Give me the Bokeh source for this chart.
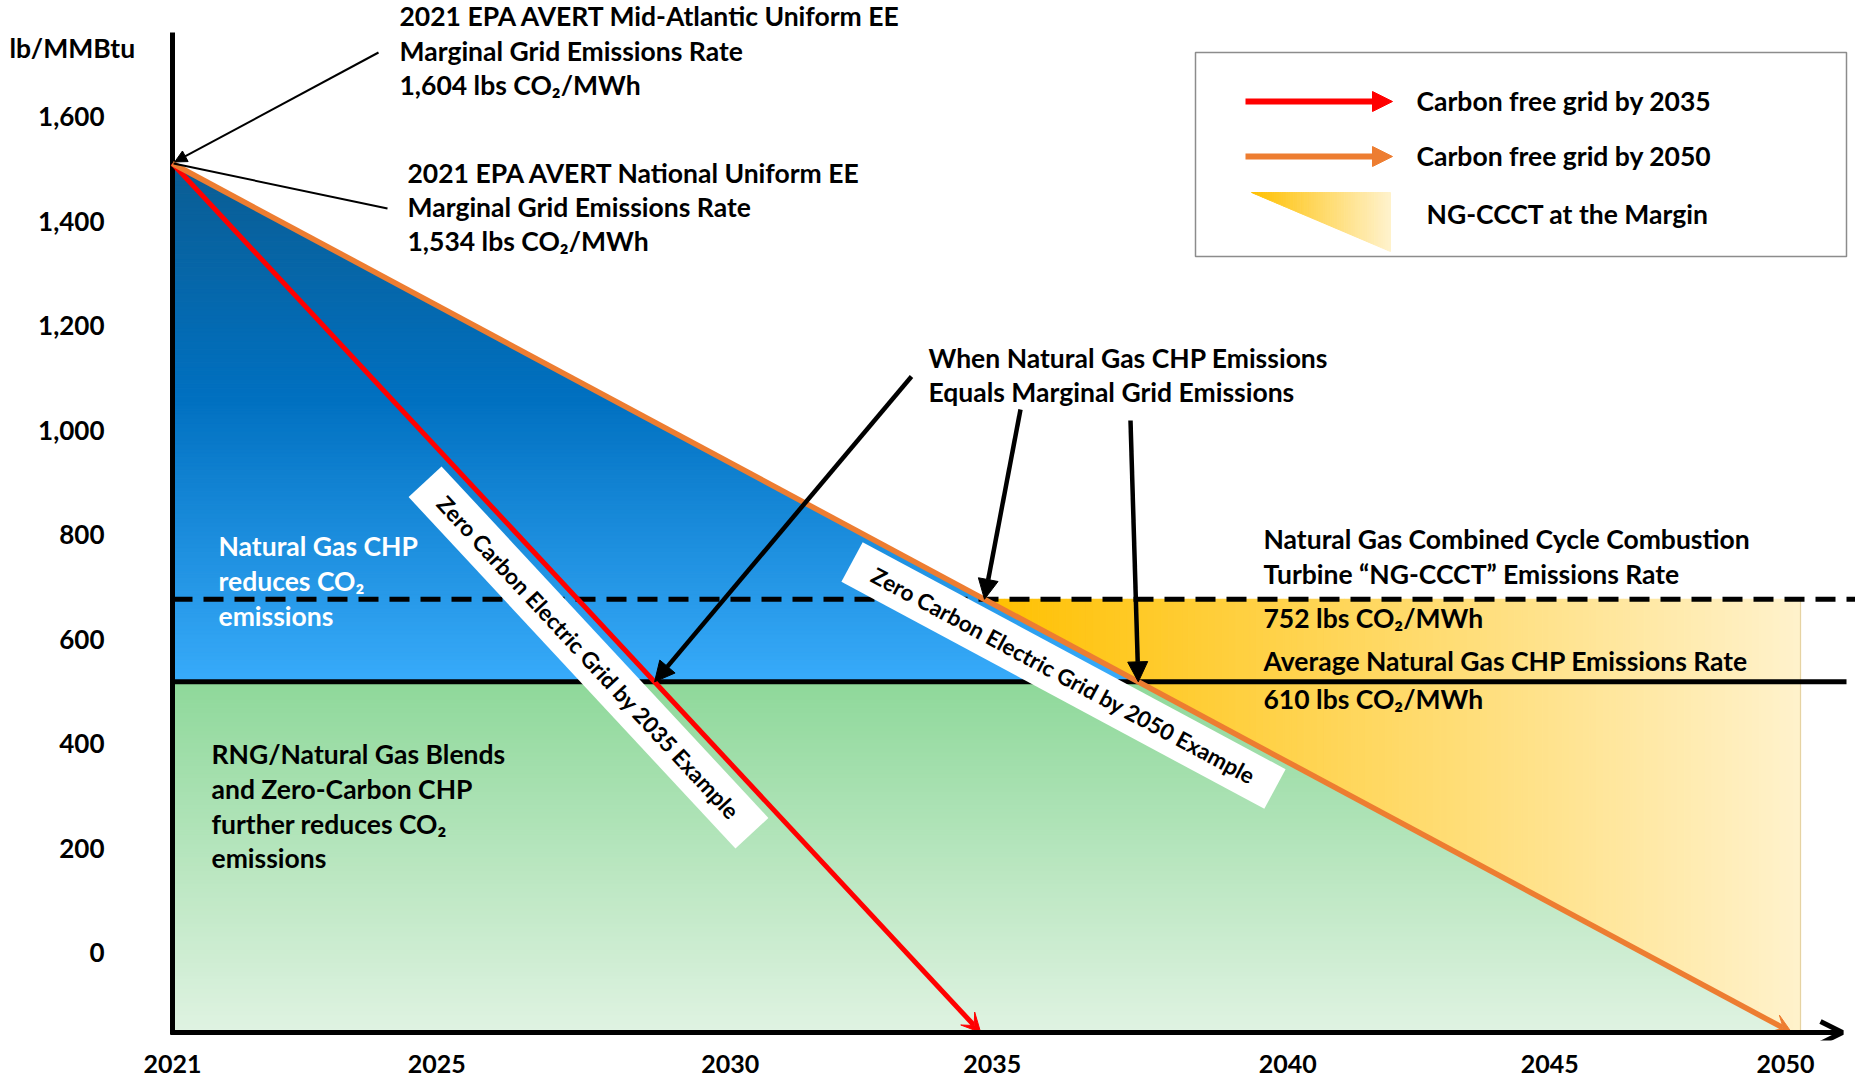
import numpy as np
from bokeh.plotting import figure
from bokeh.models import Range1d, FixedTicker, Label, Arrow, NormalHead, OpenHead, VeeHead
from bokeh.core.properties import value
from bokeh.embed import file_html
from bokeh.resources import INLINE

# ---------------- values ----------------
X_TICK_LABELS = ["2021", "2025", "2030", "2035", "2040", "2045", "2050"]
X_TICK_AT = [2021.0, 2025.75, 2031.03, 2035.74, 2041.05, 2045.76, 2050.0]   # where the reference places each year label
Y_TICK_VALUES = [0, 200, 400, 600, 800, 1000, 1200, 1400, 1600]
Y_TICK_LABELS = ["0", "200", "400", "600", "800", "1,000", "1,200", "1,400", "1,600"]

START_YEAR = 2021.0
START_RATE = 1510.0        # starting marginal grid emissions (apex)
FLOOR_RATE = -153.0        # level of the horizontal axis
RED_END_YEAR = 2035.53     # carbon free grid by 2035
ORANGE_END_YEAR = 2050.11  # carbon free grid by 2050
NGCCCT_RATE = 676.0        # NG-CCCT emissions level (dashed)
CHP_RATE = 518.0           # average NG CHP emissions level (solid)
MARGIN_END_YEAR = 2050.27  # right end of the NG-CCCT shaded area

TXT_MIDATL = ["2021 EPA AVERT Mid-Atlantic Uniform EE", "Marginal Grid Emissions Rate", "1,604 lbs CO\u2082/MWh"]
TXT_NATIONAL = ["2021 EPA AVERT National Uniform EE", "Marginal Grid Emissions Rate", "1,534 lbs CO\u2082/MWh"]
TXT_WHEN = ["When Natural Gas CHP Emissions", "Equals Marginal Grid Emissions"]
TXT_NGCCCT = ["Natural Gas Combined Cycle Combustion", "Turbine \u201cNG-CCCT\u201d Emissions Rate", "752 lbs CO\u2082/MWh"]
TXT_CHPAVG = ["Average Natural Gas CHP Emissions Rate", "610 lbs CO\u2082/MWh"]
TXT_BLUE = ["Natural Gas CHP", "reduces CO\u2082", "emissions"]
TXT_GREEN = ["RNG/Natural Gas Blends", "and Zero-Carbon CHP", "further reduces CO\u2082", "emissions"]
LEGEND_TXT = ["Carbon free grid by 2035", "Carbon free grid by 2050", "NG-CCCT at the Margin"]
BOX_TXT = ["Zero Carbon Electric Grid by 2035 Example", "Zero Carbon Electric Grid by 2050 Example"]
UNIT_TXT = "lb/MMBtu"

# ---------------- layout ----------------
W, H = 1855, 1084
FL, FR, FT, FB = 150, 1855, 0, 1040
PX_X0, PX_PER_YEAR = 172.0, 55.62
PX_Y0, PX_PER_UNIT = 952.0, 0.5225
FONT = "Lato"
TXT_SIZE = "26.5px"
RED = "#FF0000"
ORANGE = "#ED7D31"


def X(px):
    return START_YEAR + (px - PX_X0) / PX_PER_YEAR


def Y(py):
    return (PX_Y0 - py) / PX_PER_UNIT


def hex2rgb(h):
    h = h.lstrip("#")
    return tuple(int(h[i:i + 2], 16) for i in (0, 2, 4))


def grad(stops, t):
    t = min(max(t, 0.0), 1.0)
    for (t0, c0), (t1, c1) in zip(stops[:-1], stops[1:]):
        if t <= t1:
            f = (t - t0) / (t1 - t0) if t1 > t0 else 0.0
            a, b = hex2rgb(c0), hex2rgb(c1)
            return "#%02x%02x%02x" % tuple(int(round(a[i] + (b[i] - a[i]) * f)) for i in range(3))
    return stops[-1][1]


def orange_x(y):
    return START_YEAR + (START_RATE - y) / (START_RATE - FLOOR_RATE) * (ORANGE_END_YEAR - START_YEAR)


def orange_y(x):
    return START_RATE - (x - START_YEAR) / (ORANGE_END_YEAR - START_YEAR) * (START_RATE - FLOOR_RATE)


def red_x(y):
    return START_YEAR + (START_RATE - y) / (START_RATE - FLOOR_RATE) * (RED_END_YEAR - START_YEAR)


p = figure(width=W, height=H, x_range=Range1d(X(FL), X(FR)), y_range=Range1d(Y(FB), Y(FT)),
           output_backend="svg", toolbar_location=None, title=None,
           min_border_left=FL, min_border_right=W - FR, min_border_top=FT, min_border_bottom=H - FB,
           background_fill_color="white", border_fill_color="white", outline_line_color=None)
p.xgrid.visible = False
p.ygrid.visible = False

# ---------------- shaded regions (gradients built from strips) ----------------
BLUE_STOPS = [(0.0, "#38ABFA"), (0.55, "#0070C0"), (1.0, "#0B5D93")]
GREEN_STOPS = [(0.0, "#E0F3E2"), (1.0, "#8ED89A")]
YELLOW_STOPS = [(0.0, "#FFC000"), (1.0, "#FFF2CC")]

xs, ys, cs = [], [], []
e = np.linspace(CHP_RATE, START_RATE, 121)
for y0, y1 in zip(e[:-1], e[1:]):
    xs.append([START_YEAR, orange_x(y0), orange_x(y1), START_YEAR])
    ys.append([y0, y0, y1, y1])
    cs.append(grad(BLUE_STOPS, ((y0 + y1) / 2 - CHP_RATE) / (START_RATE - CHP_RATE)))
e = np.linspace(FLOOR_RATE, CHP_RATE, 81)
for y0, y1 in zip(e[:-1], e[1:]):
    xs.append([START_YEAR, orange_x(y0), orange_x(y1), START_YEAR])
    ys.append([y0, y0, y1, y1])
    cs.append(grad(GREEN_STOPS, ((y0 + y1) / 2 - FLOOR_RATE) / (CHP_RATE - FLOOR_RATE)))
xa = orange_x(NGCCCT_RATE)
e = np.linspace(xa, MARGIN_END_YEAR, 121)
for x0, x1 in zip(e[:-1], e[1:]):
    b0, b1 = max(orange_y(x0), FLOOR_RATE), max(orange_y(x1), FLOOR_RATE)
    xs.append([x0, x1, x1, x0])
    ys.append([b0, b1, NGCCCT_RATE, NGCCCT_RATE])
    cs.append(grad(YELLOW_STOPS, ((x0 + x1) / 2 - xa) / (MARGIN_END_YEAR - xa)))
p.patches(xs=xs, ys=ys, fill_color=cs, line_color=cs, line_width=1.2)
p.segment(x0=[MARGIN_END_YEAR], y0=[FLOOR_RATE], x1=[MARGIN_END_YEAR], y1=[NGCCCT_RATE],
          line_color="#E6D3A3", line_width=1.2)

# ---------------- reference levels ----------------
p.segment(x0=[START_YEAR], y0=[NGCCCT_RATE], x1=[X(1855)], y1=[NGCCCT_RATE],
          line_color="black", line_width=5, line_dash="20 11")
p.segment(x0=[START_YEAR], y0=[CHP_RATE], x1=[X(1846)], y1=[CHP_RATE],
          line_color="black", line_width=5)

# ---------------- rotated white boxes ----------------
BOXES = [((588, 657), -np.arctan2(1032 - 163, 980 - 172)), ((1063, 675), -np.arctan2(1032 - 163, 1791 - 172))]
for (cx, cy), ang in BOXES:
    p.rect(x=[X(cx)], y=[Y(cy)], width=480, height=45, width_units="screen", height_units="screen",
           angle=ang, fill_color="white", line_color=None)
for ((cx, cy), ang), t in zip(BOXES, BOX_TXT):
    p.add_layout(Label(x=X(cx), y=Y(cy), text=t, angle=ang, angle_units="rad", text_align="center",
                       text_baseline="middle", text_font=FONT, text_font_style="bold",
                       text_font_size="22.5px", text_color="black"))

# ---------------- axes lines ----------------
p.segment(x0=[START_YEAR], y0=[Y(1034)], x1=[START_YEAR], y1=[Y(32)], line_color="black", line_width=5)

# ---------------- main scenario lines ----------------
p.add_layout(Arrow(x_start=START_YEAR, y_start=START_RATE, x_end=RED_END_YEAR, y_end=FLOOR_RATE,
                   line_color=RED, line_width=5,
                   end=VeeHead(size=19, fill_color=RED, line_color=RED, line_width=1)))
p.add_layout(Arrow(x_start=START_YEAR, y_start=START_RATE, x_end=ORANGE_END_YEAR, y_end=FLOOR_RATE,
                   line_color=ORANGE, line_width=5.5,
                   end=VeeHead(size=19, fill_color=ORANGE, line_color=ORANGE, line_width=1)))

p.add_layout(Arrow(x_start=X(1842), y_start=FLOOR_RATE, x_end=X(170), y_end=FLOOR_RATE,
                   line_color="black", line_width=5, end=None,
                   start=OpenHead(size=22, line_color="black", line_width=5)))

# ---------------- callout arrows ----------------
def callout(px0, py0, x1, y1, lw, size, head=True):
    p.add_layout(Arrow(x_start=X(px0), y_start=Y(py0), x_end=x1, y_end=y1, line_color="black",
                       line_width=lw,
                       end=NormalHead(size=size, fill_color="black", line_color="black") if head else None))

callout(378, 52, START_YEAR + 0.04, START_RATE + 3, 2, 12)
callout(387, 208, START_YEAR + 0.02, START_RATE, 2, 0, head=False)
callout(911, 376, red_x(CHP_RATE), CHP_RATE, 4.5, 20)
callout(1020, 409, orange_x(NGCCCT_RATE), NGCCCT_RATE, 4.5, 20)
callout(1130, 420, orange_x(CHP_RATE), CHP_RATE, 4.5, 20)

# ---------------- legend ----------------
p.quad(left=[X(1195)], right=[X(1846)], top=[Y(52)], bottom=[Y(256)], fill_color="white",
       line_color="#8C8C8C", line_width=1.5)
for py, col in ((101, RED), (156, ORANGE)):
    p.add_layout(Arrow(x_start=X(1245), y_start=Y(py), x_end=X(1392), y_end=Y(py), line_color=col,
                       line_width=6, end=NormalHead(size=20, fill_color=col, line_color=col)))
lx, ly, lc = [], [], []
e = np.linspace(1251, 1390, 61)
for a, b in zip(e[:-1], e[1:]):
    ya = 192 + (a - 1251) / 139 * 59
    yb = 192 + (b - 1251) / 139 * 59
    lx.append([X(a), X(b), X(b), X(a)])
    ly.append([Y(ya), Y(yb), Y(192), Y(192)])
    lc.append(grad(YELLOW_STOPS, ((a + b) / 2 - 1251) / 139))
p.patches(xs=lx, ys=ly, fill_color=lc, line_color=lc, line_width=1)

# ---------------- texts ----------------
def put_lines(lines, px, pys, color="black", size=TXT_SIZE):
    for t, py in zip(lines, pys):
        p.add_layout(Label(x=X(px), y=Y(py), text=t, text_font=FONT, text_font_style="bold",
                           text_font_size=size, text_color=color, text_baseline="middle",
                           text_align="left"))

# unit label sits left of the frame: drawn as an overlay-level text glyph
p.text(x=[X(9)], y=[Y(47)], text=[UNIT_TXT], text_font=value(FONT), text_font_style="bold",
       text_font_size="26.5px", text_color="black", text_baseline="middle", text_align="left",
       level="overlay")
put_lines(TXT_MIDATL, 399, [15, 50, 84])
put_lines(TXT_NATIONAL, 407, [172, 206, 240])
put_lines(TXT_WHEN, 928, [357, 391])
put_lines(TXT_NGCCCT, 1263, [538, 573, 617])
put_lines(TXT_CHPAVG, 1263, [660, 698])
put_lines(TXT_BLUE, 218, [545, 580, 615], color="white")
put_lines(TXT_GREEN, 211, [753, 788, 823, 857])
put_lines(LEGEND_TXT[:2], 1416, [100, 155])
put_lines(LEGEND_TXT[2:], 1426, [213])

# ---------------- axes ----------------
for ax in (p.xaxis[0], p.yaxis[0]):
    ax.axis_line_color = None
    ax.major_tick_line_color = None
    ax.minor_tick_line_color = None
    ax.major_tick_out = 0
    ax.major_tick_in = 0
    ax.major_label_text_font = FONT
    ax.major_label_text_font_style = "bold"
    ax.major_label_text_color = "black"
p.yaxis.major_label_text_font_size = "26px"
p.xaxis.major_label_text_font_size = "25px"
p.yaxis.ticker = FixedTicker(ticks=Y_TICK_VALUES)
p.yaxis.major_label_overrides = {v: s for v, s in zip(Y_TICK_VALUES, Y_TICK_LABELS)}
p.yaxis.major_label_standoff = 46
p.xaxis.ticker = FixedTicker(ticks=X_TICK_AT)
p.xaxis.major_label_overrides = {v: s for v, s in zip(X_TICK_AT, X_TICK_LABELS)}
p.xaxis.major_label_standoff = 14

open("out.html", "w").write(file_html(p, INLINE))
